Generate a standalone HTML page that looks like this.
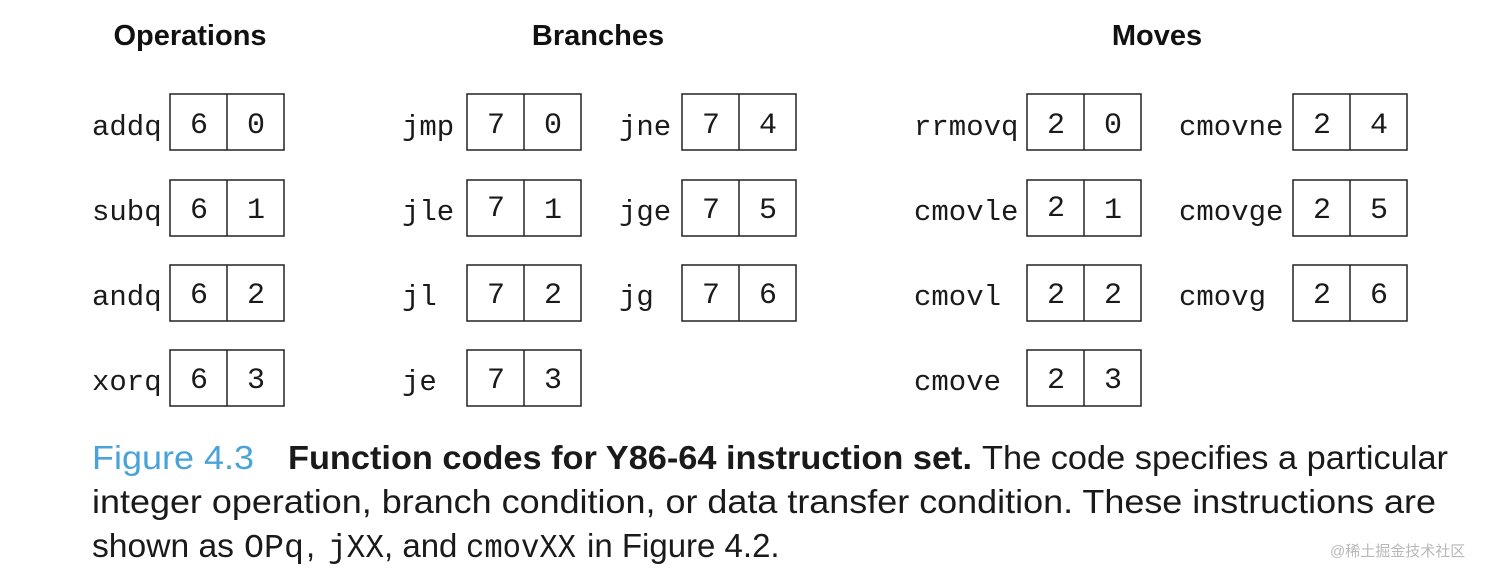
<!DOCTYPE html>
<html><head><meta charset="utf-8"><style>
html,body{margin:0;padding:0;background:#fff;}
svg{display:block;}
.m{font-family:"Liberation Mono",monospace;font-size:29px;fill:#1a1a1a;}
.d{font-family:"Liberation Mono",monospace;font-size:30px;fill:#1a1a1a;text-anchor:middle;}
.h{font-family:"Liberation Sans",sans-serif;font-weight:bold;font-size:29px;fill:#111;text-anchor:middle;}
.c{font-family:"Liberation Sans",sans-serif;font-size:33px;fill:#1a1a1a;}
.cm{font-family:"Liberation Mono",monospace;}
.blue{fill:#4aa3d8;}
rect,line{stroke:#222;stroke-width:1.5;fill:none;}
</style></head><body>
<svg width="1512" height="578" xmlns="http://www.w3.org/2000/svg">
<text class="h" x="190" y="45">Operations</text>
<text class="h" x="598" y="45">Branches</text>
<text class="h" x="1157" y="45">Moves</text>

<g>
<rect x="170" y="94" width="114" height="56"/><line x1="227" y1="94" x2="227" y2="150"/>
<rect x="170" y="180" width="114" height="56"/><line x1="227" y1="180" x2="227" y2="236"/>
<rect x="170" y="265" width="114" height="56"/><line x1="227" y1="265" x2="227" y2="321"/>
<rect x="170" y="350" width="114" height="56"/><line x1="227" y1="350" x2="227" y2="406"/>
<text class="m" x="92" y="135">addq</text><text class="d" x="199" y="133">6</text><text class="d" x="256" y="133">0</text>
<text class="m" x="92" y="220">subq</text><text class="d" x="199" y="218">6</text><text class="d" x="256" y="218">1</text>
<text class="m" x="92" y="305">andq</text><text class="d" x="199" y="303">6</text><text class="d" x="256" y="303">2</text>
<text class="m" x="92" y="390">xorq</text><text class="d" x="199" y="388">6</text><text class="d" x="256" y="388">3</text>
</g>
<g>
<rect x="467" y="94" width="114" height="56"/><line x1="524" y1="94" x2="524" y2="150"/>
<rect x="467" y="180" width="114" height="56"/><line x1="524" y1="180" x2="524" y2="236"/>
<rect x="467" y="265" width="114" height="56"/><line x1="524" y1="265" x2="524" y2="321"/>
<rect x="467" y="350" width="114" height="56"/><line x1="524" y1="350" x2="524" y2="406"/>
<text class="m" x="402" y="135">jmp</text><text class="d" x="496" y="133">7</text><text class="d" x="553" y="133">0</text>
<text class="m" x="402" y="220">jle</text><text class="d" x="496" y="216">7</text><text class="d" x="553" y="218">1</text>
<text class="m" x="402" y="305">jl</text><text class="d" x="496" y="303">7</text><text class="d" x="553" y="303">2</text>
<text class="m" x="402" y="390">je</text><text class="d" x="496" y="388">7</text><text class="d" x="553" y="388">3</text>
</g>
<g>
<rect x="682" y="94" width="114" height="56"/><line x1="739" y1="94" x2="739" y2="150"/>
<rect x="682" y="180" width="114" height="56"/><line x1="739" y1="180" x2="739" y2="236"/>
<rect x="682" y="265" width="114" height="56"/><line x1="739" y1="265" x2="739" y2="321"/>
<text class="m" x="619" y="135">jne</text><text class="d" x="711" y="133">7</text><text class="d" x="768" y="133">4</text>
<text class="m" x="619" y="220">jge</text><text class="d" x="711" y="218">7</text><text class="d" x="768" y="218">5</text>
<text class="m" x="619" y="305">jg</text><text class="d" x="711" y="303">7</text><text class="d" x="768" y="303">6</text>
</g>
<g>
<rect x="1027" y="94" width="114" height="56"/><line x1="1084" y1="94" x2="1084" y2="150"/>
<rect x="1027" y="180" width="114" height="56"/><line x1="1084" y1="180" x2="1084" y2="236"/>
<rect x="1027" y="265" width="114" height="56"/><line x1="1084" y1="265" x2="1084" y2="321"/>
<rect x="1027" y="350" width="114" height="56"/><line x1="1084" y1="350" x2="1084" y2="406"/>
<text class="m" x="914" y="135">rrmovq</text><text class="d" x="1056" y="133">2</text><text class="d" x="1113" y="133">0</text>
<text class="m" x="914" y="220">cmovle</text><text class="d" x="1056" y="216">2</text><text class="d" x="1113" y="218">1</text>
<text class="m" x="914" y="305">cmovl</text><text class="d" x="1056" y="303">2</text><text class="d" x="1113" y="303">2</text>
<text class="m" x="914" y="390">cmove</text><text class="d" x="1056" y="388">2</text><text class="d" x="1113" y="388">3</text>
</g>
<g>
<rect x="1293" y="94" width="114" height="56"/><line x1="1350" y1="94" x2="1350" y2="150"/>
<rect x="1293" y="180" width="114" height="56"/><line x1="1350" y1="180" x2="1350" y2="236"/>
<rect x="1293" y="265" width="114" height="56"/><line x1="1350" y1="265" x2="1350" y2="321"/>
<text class="m" x="1179" y="135">cmovne</text><text class="d" x="1322" y="133">2</text><text class="d" x="1379" y="133">4</text>
<text class="m" x="1179" y="220">cmovge</text><text class="d" x="1322" y="218">2</text><text class="d" x="1379" y="218">5</text>
<text class="m" x="1179" y="305">cmovg</text><text class="d" x="1322" y="303">2</text><text class="d" x="1379" y="303">6</text>
</g>

<text class="c blue" x="92" y="469" textLength="162" lengthAdjust="spacingAndGlyphs">Figure 4.3</text>
<text class="c" x="288" y="469" font-weight="bold" textLength="684" lengthAdjust="spacingAndGlyphs">Function codes for Y86-64 instruction set.</text>
<text class="c" x="982" y="469" textLength="466" lengthAdjust="spacingAndGlyphs">The code specifies a particular</text>
<text class="c" x="92" y="513" textLength="1344" lengthAdjust="spacingAndGlyphs">integer operation, branch condition, or data transfer condition. These instructions are</text>
<text class="c" x="92" y="557" textLength="142" lengthAdjust="spacingAndGlyphs">shown as</text>
<text class="c cm" x="244" y="557" font-size="30" textLength="60" lengthAdjust="spacingAndGlyphs">OPq</text>
<text class="c" x="306" y="557">,</text>
<text class="c cm" x="328" y="557" font-size="30" textLength="56" lengthAdjust="spacingAndGlyphs">jXX</text>
<text class="c" x="384" y="557">, and</text>
<text class="c cm" x="466" y="557" font-size="30" textLength="110" lengthAdjust="spacingAndGlyphs">cmovXX</text>
<text class="c" x="587" y="557">in Figure 4.2.</text>

<text x="1330" y="556" font-family="Liberation Sans, Noto Sans CJK SC, sans-serif" font-size="15" fill="#b8b8b8">@稀土掘金技术社区</text>
</svg>
</body></html>
